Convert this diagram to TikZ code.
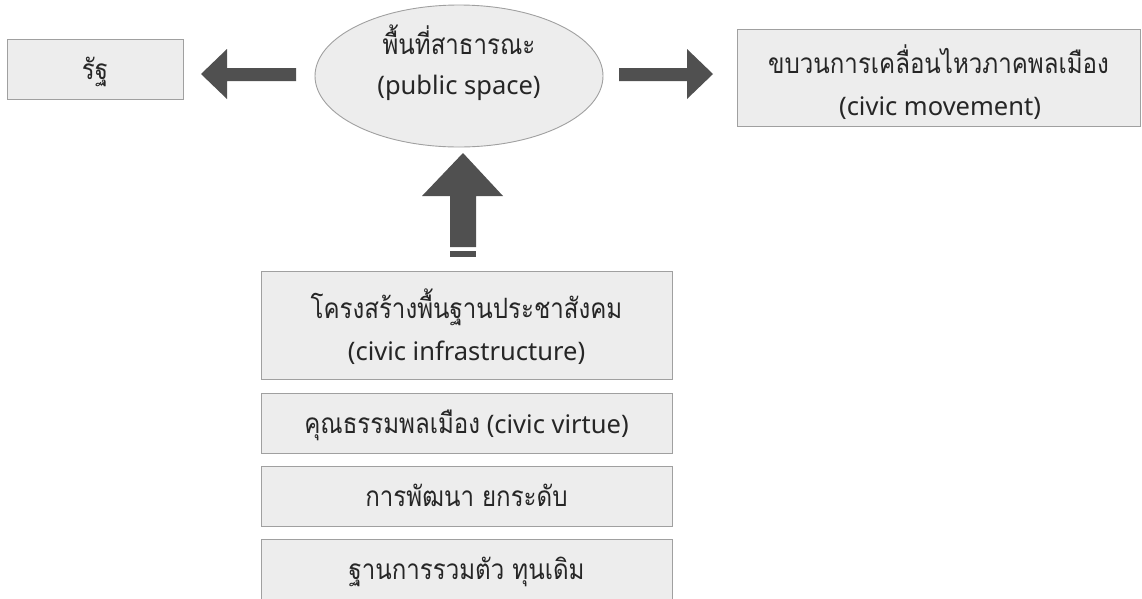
\documentclass[tikz,border=0pt]{standalone}
\usepackage{fontspec}
\usepackage{graphicx}
\setmainfont{Noto Sans}
\newfontfamily\thai[Script=Thai]{Loma}
\usetikzlibrary{shapes.geometric}
\definecolor{boxfill}{HTML}{EDEDED}
\definecolor{boxline}{HTML}{A0A0A0}
\definecolor{arrowfill}{HTML}{505050}
\definecolor{txt}{HTML}{262626}
\newcommand{\thtxt}[1]{\scalebox{0.86}[1]{\thai\fontsize{28}{32}\selectfont #1}}
\tikzset{
  box/.style={draw=boxline, fill=boxfill, line width=0.9pt, inner sep=0pt},
  lbl/.style={text=txt, anchor=base, inner sep=0pt, font=\fontsize{25.5}{30}\selectfont},
  blockarrow/.style={fill=arrowfill, draw=none}
}
\begin{document}
\begin{tikzpicture}[x=1pt,y=-1pt]
\useasboundingbox (0,0) rectangle (1142,598);
\clip (0,0) rectangle (1142,598);
% boxes
\node[box, minimum width=176pt, minimum height=60pt] (state) at (95,69) {};
\node[lbl] (stateT) at (95,79) {\thtxt{รัฐ}};
\node[box, ellipse, minimum width=288pt, minimum height=142pt] (ps) at (459,76) {};
\node[lbl] (psT1) at (459,54) {\thtxt{พื้นที่สาธารณะ}};
\node[lbl] (psT2) at (459,94) {(public space)};
\node[box, minimum width=403pt, minimum height=97pt] (cm) at (938.5,77.5) {};
\node[lbl] (cmT1) at (938.5,73) {\thtxt{ขบวนการเคลื่อนไหวภาคพลเมือง}};
\node[lbl] (cmT2) at (940,115) {(civic movement)};
\node[box, minimum width=411pt, minimum height=108pt] (ci) at (466.5,325) {};
\node[lbl] (ciT1) at (466.5,318) {\thtxt{โครงสร้างพื้นฐานประชาสังคม}};
\node[lbl] (ciT2) at (466.5,360) {(civic infrastructure)};
\node[box, minimum width=411pt, minimum height=60pt] (cv) at (466.5,423) {};
\node[lbl] (cvT) at (466.5,433) {\thtxt{คุณธรรมพลเมือง} (civic virtue)};
\node[box, minimum width=411pt, minimum height=60pt] (dev) at (466.5,496) {};
\node[lbl] (devT) at (466.5,506) {\thtxt{การพัฒนา ยกระดับ}};
\node[box, minimum width=411pt, minimum height=90pt] (base) at (466.5,584) {};
\node[lbl] (baseT) at (466.5,579) {\thtxt{ฐานการรวมตัว ทุนเดิม}};
% block arrows
\fill[blockarrow] (296,68) -- (227,68) -- (227,49) -- (201,74) -- (227,99) -- (227,81) -- (296,81) -- cycle;
\fill[blockarrow] (619,68) -- (687,68) -- (687,49) -- (713,74) -- (687,99) -- (687,81) -- (619,81) -- cycle;
\fill[blockarrow] (450,247) -- (450,196) -- (422,196) -- (463,153) -- (503,196) -- (476,196) -- (476,247) -- cycle;
\fill[blockarrow] (450,251) rectangle (476,257);
\end{tikzpicture}
\end{document}
